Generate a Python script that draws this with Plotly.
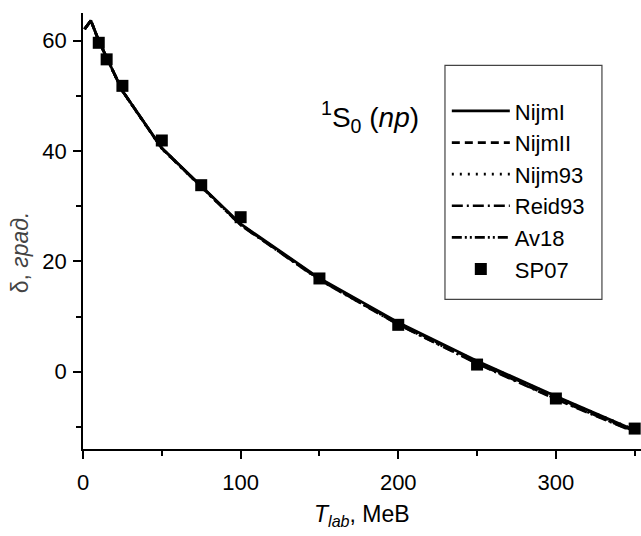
import plotly.graph_objects as go

# Energies (MeV) for the model curves
T = [1, 5, 10, 25, 50, 100, 150, 200, 250, 300, 350]
nijm1 = [62.07, 63.63, 59.96, 50.90, 40.54, 26.78, 16.94, 8.94, 1.96, -4.46, -10.59]
nijm2 = [62.07, 63.63, 59.97, 50.89, 40.48, 26.67, 16.80, 8.78, 1.79, -4.64, -10.77]
nijm93 = [62.07, 63.62, 59.94, 50.83, 40.39, 26.59, 16.76, 8.79, 1.86, -4.52, -10.56]
reid93 = [62.07, 63.62, 59.95, 50.88, 40.47, 26.58, 16.65, 8.55, 1.48, -4.98, -10.93]
av18 = [62.07, 63.61, 59.94, 50.90, 40.51, 26.64, 16.70, 8.60, 1.55, -4.89, -10.87]

# SP07 partial-wave analysis points
T_sp = [10, 15, 25, 50, 75, 100, 150, 200, 250, 300, 350]
sp07 = [59.6, 56.6, 51.8, 41.9, 33.8, 28.0, 16.9, 8.5, 1.3, -4.85, -10.3]

x_ticks = [0, 100, 200, 300]
y_ticks = [0, 20, 40, 60]

FONT = "Liberation Sans, Arial, sans-serif"

fig = go.Figure()
series = [
    ("NijmI", nijm1, "solid"),
    ("NijmII", nijm2, "8px,5px"),
    ("Nijm93", nijm93, "2px,6px"),
    ("Reid93", reid93, "11px,4px,2px,4px"),
    ("Av18", av18, "10px,3px,2px,3px,2px,3px"),
]
for name, y, dash in series:
    fig.add_trace(go.Scatter(x=T, y=y, mode="lines", name=name,
                             line=dict(color="black", width=2.7, dash=dash)))
fig.add_trace(go.Scatter(x=T_sp, y=sp07, mode="markers", name="SP07",
                         marker=dict(symbol="square", size=12, color="black")))

fig.update_layout(
    width=641, height=536,
    margin=dict(l=83, r=0, t=13, b=87),
    plot_bgcolor="white", paper_bgcolor="white",
    font=dict(family=FONT, size=22, color="black"),
    showlegend=True,
    legend=dict(x=0.652, y=0.823, xanchor="left", yanchor="top",
                bgcolor="rgba(0,0,0,0)", borderwidth=0,
                font=dict(family=FONT, size=22, color="black"),
                itemwidth=58),
    xaxis=dict(range=[0, 354], tickvals=x_ticks, showgrid=False, zeroline=False,
               showline=True, linecolor="black", linewidth=1.5,
               ticks="outside", ticklen=8, tickwidth=1.5, tickcolor="black",
               ticklabelstandoff=5,
               minor=dict(dtick=50, ticks="outside", ticklen=5, tickwidth=1.5, tickcolor="black"),
               tickfont=dict(family=FONT, size=22)),
    yaxis=dict(range=[-14, 65], tickvals=y_ticks, showgrid=False, zeroline=False,
               showline=True, linecolor="black", linewidth=1.5,
               ticks="outside", ticklen=8, tickwidth=1.5, tickcolor="black",
               ticklabelstandoff=2,
               minor=dict(dtick=10, ticks="outside", ticklen=5, tickwidth=1.5, tickcolor="black"),
               tickfont=dict(family=FONT, size=22)),
    shapes=[dict(type="rect", xref="paper", yref="paper",
                 x0=0.6487, x1=0.930, y0=0.343, y1=0.880,
                 line=dict(color="#444", width=1.2), fillcolor="rgba(0,0,0,0)")],
    annotations=[
        dict(text="<sup>1</sup>S<sub>0</sub> (<i>np</i>)", xref="paper", yref="paper",
             x=0.514, y=0.812, showarrow=False, font=dict(family=FONT, size=28)),
        dict(text="<i>T</i><sub><i>lab</i></sub>, MeB", xref="paper", yref="paper",
             x=0.5, y=-0.19, showarrow=False, font=dict(family=FONT, size=23)),
        dict(text="δ, <i>град.</i>", xref="paper", yref="paper", textangle=-90,
             x=-0.14, y=0.451, showarrow=False, font=dict(family=FONT, size=23, color="#444")),
    ],
)

fig.write_html("out.html")
